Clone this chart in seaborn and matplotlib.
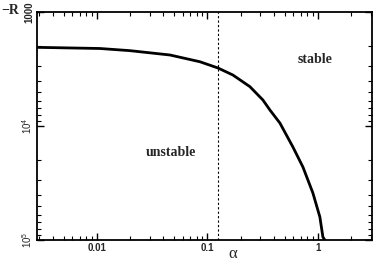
import matplotlib
matplotlib.use("Agg")
import matplotlib.pyplot as plt
import pandas as pd
import seaborn as sns
from matplotlib.ticker import FixedLocator, FixedFormatter, LogLocator, NullFormatter

# --- data ---
alpha = [0.00287, 0.01064, 0.0199, 0.0458, 0.0855, 0.1245, 0.170, 0.2425, 0.318,
         0.368, 0.453, 0.594, 0.732, 0.901, 1.042, 1.11, 1.156]
minus_r = [2042, 2090, 2183, 2383, 2731, 3097, 3570, 4518, 5916,
           7242, 9418, 15280, 22900, 38700, 62800, 94200, 100000]
alpha_c = 0.126
x_ticks = [0.01, 0.1, 1]
x_labels = ["0.01", "0.1", "1"]
y_ticks = [1e3, 1e4, 1e5]
y_labels = ["1000", "$10^4$", "$10^5$"]

df = pd.DataFrame({"alpha": alpha, "minus_r": minus_r})

sns.set_theme(style="ticks")
plt.rcParams["font.family"] = ["Liberation Sans", "DejaVu Sans"]
plt.rcParams["mathtext.fontset"] = "custom"
plt.rcParams["mathtext.rm"] = "Liberation Sans"
plt.rcParams["mathtext.bf"] = "Liberation Sans:bold"

fig = plt.figure(figsize=(3.73, 2.66), dpi=100)
ax = fig.add_axes([0.0992, 0.0977, 0.8978, 0.8572])

sns.lineplot(data=df, x="alpha", y="minus_r", ax=ax, color="black", linewidth=2)
ax.axvline(alpha_c, color="black", linestyle=(0, (2, 2)), linewidth=0.8)

ax.set_xscale("log")
ax.set_yscale("log")
ax.set_xlim(0.00287, 3.08)
ax.set_ylim(1e5, 1e3)

ax.xaxis.set_major_locator(FixedLocator(x_ticks))
ax.xaxis.set_major_formatter(FixedFormatter(x_labels))
ax.xaxis.set_minor_locator(LogLocator(base=10, subs=range(2, 10)))
ax.xaxis.set_minor_formatter(NullFormatter())
ax.yaxis.set_major_locator(FixedLocator(y_ticks))
ax.yaxis.set_major_formatter(FixedFormatter(y_labels))
ax.yaxis.set_minor_locator(LogLocator(base=10, subs=range(2, 10)))
ax.yaxis.set_minor_formatter(NullFormatter())

ax.tick_params(which="both", direction="in", top=True, right=True, color="black")
ax.tick_params(which="major", length=5, width=1, labelsize=7, pad=2)
ax.tick_params(which="minor", length=3, width=0.8)
for lbl in ax.get_yticklabels():
    lbl.set_rotation(90)
    lbl.set_va("center")
for lbl in ax.get_xticklabels() + ax.get_yticklabels():
    lbl.set_fontweight("bold")

for sp in ax.spines.values():
    sp.set_linewidth(1.3)
    sp.set_color("black")

ax.set_xlabel("")
ax.set_ylabel("")
serif = ["Liberation Serif", "DejaVu Serif"]
fig.text(0.624, 0.03, "α", fontsize=12, family=serif, ha="center")
fig.text(0.026, 0.962, "−R", fontsize=10, family=serif, fontweight="bold",
         ha="center", va="center")
ax.text(0.83, 0.79, "stable", transform=ax.transAxes, fontsize=10, fontweight="bold",
        family=serif, ha="center", va="center")
ax.text(0.40, 0.385, "unstable", transform=ax.transAxes, fontsize=10, fontweight="bold",
        family=serif, ha="center", va="center")

fig.savefig("out.png", dpi=100)
